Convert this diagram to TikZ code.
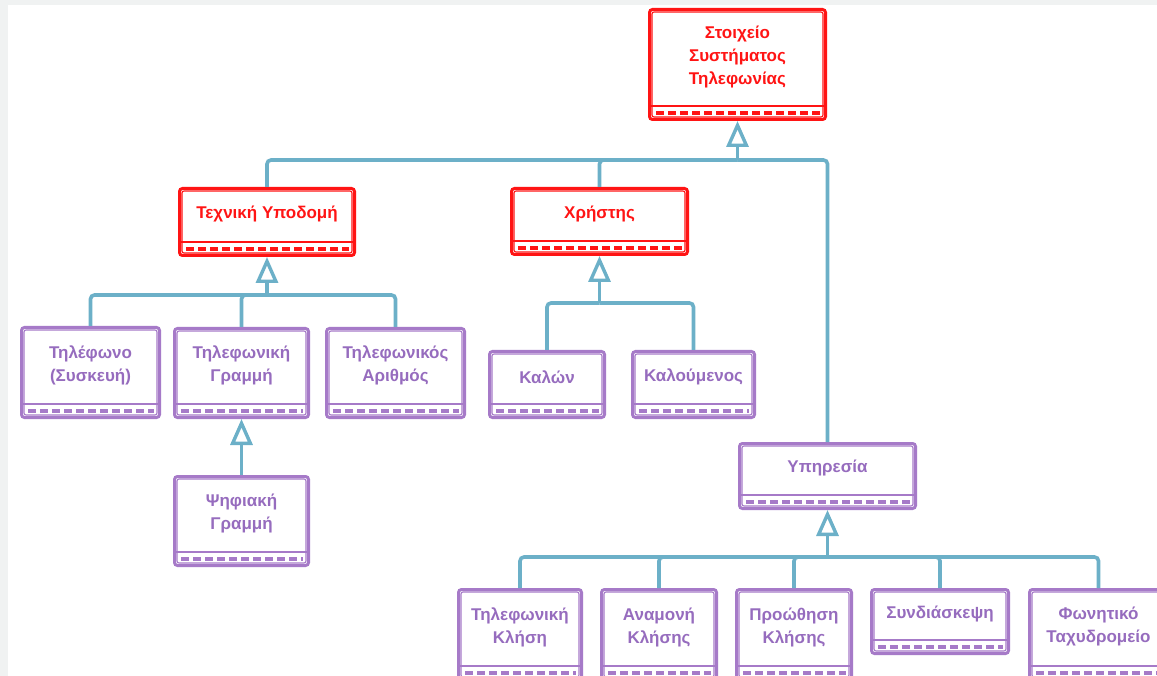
\documentclass[tikz,border=0pt]{standalone}
\usepackage{fontspec}
\setmainfont{Liberation Sans}
\usetikzlibrary{arrows.meta,calc}
\definecolor{umlred}{RGB}{255,20,20}
\definecolor{umlpurple}{RGB}{166,122,200}
\definecolor{umltext}{RGB}{150,108,190}
\definecolor{conncol}{RGB}{108,176,200}
\definecolor{bggray}{RGB}{240,242,242}
\tikzset{
  frame/.style={draw, line width=3pt, rounded corners=3pt, fill=white, inner sep=0pt},
  lbl/.style={font=\bfseries\fontsize{17}{23}\selectfont, align=center, inner sep=0pt},
  conn/.style={draw=conncol, line width=3.6pt, rounded corners=4pt},
  gen/.style={-{Triangle[length=26pt, width=22pt, fill=white, line width=3.4pt]}},
}
\newcommand\umlbox[8]{%
  \node[frame, draw=#6, minimum width={(#4-#2)*1pt}, minimum height={(#5-#3)*1pt}, anchor=north west] (#1) at (#2,#3) {};
  \draw[#6, line width=1.1pt, rounded corners=2pt] ([shift={(4pt,-4pt)}]#1.north west) rectangle ([shift={(-4pt,4pt)}]#1.south east);
  \draw[#6, line width=2.2pt] ([yshift=15pt]#1.south west) -- ([yshift=15pt]#1.south east);
  \draw[#6, line width=4.2pt, dash pattern=on 8pt off 4pt] ([shift={(8pt,8pt)}]#1.south west) -- ([shift={(-7pt,8pt)}]#1.south east);
  \node[lbl, text=#7] (#1-t) at ($(#1.north)!0.5!([yshift=15pt]#1.south)$) {#8};
}
\begin{document}
\begin{tikzpicture}[x=1pt, y=-1pt]
\useasboundingbox (0,0) rectangle (1157,676);
\clip (0,0) rectangle (1157,676);
\fill[bggray] (0,0) rectangle (1157,676);
\fill[white] (8,5) rectangle (1157,676);

% red boxes
\umlbox{root}{648}{8}{824}{118}{umlred}{umlred}{Στοιχείο\\Συστήματος\\Τηλεφωνίας}
\umlbox{infra}{178}{187}{353}{254}{umlred}{umlred}{Τεχνική Υποδομή}
\umlbox{user}{510}{187}{686}{253}{umlred}{umlred}{Χρήστης}

% purple boxes
\umlbox{phone}{20}{326}{158}{416}{umlpurple}{umltext}{Τηλέφωνο\\(Συσκευή)}
\umlbox{line}{173}{327}{307}{416}{umlpurple}{umltext}{Τηλεφωνική\\Γραμμή}
\umlbox{number}{325}{327}{463}{416}{umlpurple}{umltext}{Τηλεφωνικός\\Αριθμός}
\umlbox{caller}{488}{350}{603}{416}{umlpurple}{umltext}{Καλών}
\umlbox{callee}{631}{350}{753}{416}{umlpurple}{umltext}{Καλούμενος}
\umlbox{digital}{173}{475}{307}{564}{umlpurple}{umltext}{Ψηφιακή\\Γραμμή}
\umlbox{service}{738}{442}{914}{507}{umlpurple}{umltext}{Υπηρεσία}
\umlbox{call}{457}{588}{580}{678}{umlpurple}{umltext}{Τηλεφωνική\\Κλήση}
\umlbox{wait}{600}{588}{715}{678}{umlpurple}{umltext}{Αναμονή\\Κλήσης}
\umlbox{fwd}{735}{588}{850}{678}{umlpurple}{umltext}{Προώθηση\\Κλήσης}
\umlbox{conf}{870}{588}{1007}{652}{umlpurple}{umltext}{Συνδιάσκεψη}
\umlbox{voice}{1028}{588}{1166}{678}{umlpurple}{umltext}{Φωνητικό\\Ταχυδρομείο}

% connectors
\coordinate (j0) at (root.south |- 0,160);
\draw[conn] (infra.north) -- (infra.north |- j0) -- (j0);
\draw[conn] (user.north) -- (user.north |- j0) -- (j0);
\draw[conn] (service.north) -- (service.north |- j0) -- (j0);
\draw[conn, gen] (j0) -- (root.south);

\coordinate (j1) at (infra.south |- 0,295);
\draw[conn] (phone.north) -- (phone.north |- j1) -- (j1);
\draw[conn] (line.north) -- (line.north |- j1) -- (j1);
\draw[conn] (number.north) -- (number.north |- j1) -- (j1);
\draw[conn, gen] (j1) -- (infra.south);

\coordinate (j2) at (user.south |- 0,303);
\draw[conn] (caller.north) -- (caller.north |- j2) -- (j2);
\draw[conn] (callee.north) -- (callee.north |- j2) -- (j2);
\draw[conn, gen] (j2) -- (user.south);

\draw[conn, gen] (digital.north) -- (line.south);

\coordinate (j3) at (service.south |- 0,557);
\draw[conn] (call.north) -- (call.north |- j3) -- (j3);
\draw[conn] (wait.north) -- (wait.north |- j3) -- (j3);
\draw[conn] (fwd.north) -- (fwd.north |- j3) -- (j3);
\draw[conn] (conf.north) -- (conf.north |- j3) -- (j3);
\draw[conn] (voice.north) -- (voice.north |- j3) -- (j3);
\draw[conn, gen] (j3) -- (service.south);
\end{tikzpicture}
\end{document}
